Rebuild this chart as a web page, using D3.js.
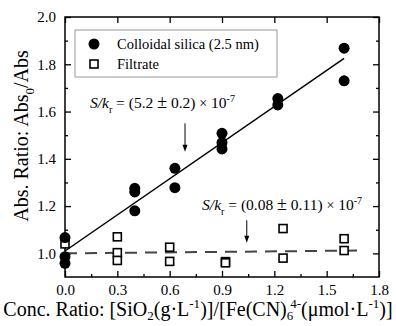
<!DOCTYPE html>
<html><head><meta charset="utf-8">
<script src="https://cdn.jsdelivr.net/npm/d3@7"></script>
<style>
html,body{margin:0;padding:0;background:#fff;}
svg{display:block;}
text, tspan{font-family:"Liberation Serif","Times New Roman",serif;}
</style></head>
<body>
<svg id="chart" width="396" height="326"></svg>
<script>
// ---- data ----
const silicaX = [0, 0, 0, 0.4, 0.4, 0.4, 0.63, 0.63, 0.9, 0.9, 0.9, 1.22, 1.22, 1.6, 1.6];
const silicaY = [1.067, 0.986, 0.958, 1.275, 1.26, 1.18, 1.36, 1.278, 1.508, 1.468, 1.442, 1.655, 1.628, 1.868, 1.73];
const filtrateX = [0, 0.3, 0.3, 0.3, 0.6, 0.6, 0.92, 0.92, 1.25, 1.25, 1.6, 1.6];
const filtrateY = [1.04, 1.07, 1.003, 0.97, 1.026, 0.966, 0.965, 0.96, 1.105, 0.98, 1.062, 1.012];
const fitSilicaX = [0, 1.6];
const fitSilicaY = [1.01, 1.825];
const fitFiltrateX = [0, 1.69];
const fitFiltrateY = [1.0, 1.012];
const xTicks = [0, 0.3, 0.6, 0.9, 1.2, 1.5, 1.8];
const xMinor = [0.15, 0.45, 0.75, 1.05, 1.35, 1.65];
const yTicks = [1.0, 1.2, 1.4, 1.6, 1.8, 2.0];
const yMinor = [1.1, 1.3, 1.5, 1.7, 1.9];
const legendLabels = ["Colloidal silica (2.5 nm)", "Filtrate"];
const annot1 = {x: 0.143, y: 1.615, ax: 0.688, ay1: 1.55, ay2: 1.43, a: "5.2", b: "0.2"};
const annot2 = {x: 0.786, y: 1.184, ax: 1.042, ay1: 1.14, ay2: 1.045, a: "0.08", b: "0.11"};

// ---- layout ----
const SERIF = "Liberation Serif, Times New Roman, serif";
const svg = d3.select("#chart").attr("font-family", SERIF);
const L = 65, R = 379, T = 17, B = 277;
const x = d3.scaleLinear().domain([0, 1.8]).range([L, R]);
const y = d3.scaleLinear().domain([0.9, 2.0]).range([B, T]);
const fs = 15;

function axisStyle(g){
  g.attr("font-family", SERIF);
  g.select(".domain").remove();
  g.selectAll(".tick line").attr("stroke","#000").attr("stroke-width",1.3);
  g.selectAll(".tick text").attr("font-family",SERIF).attr("font-size",fs).attr("fill","#000");
}
const fmt = d3.format(".1f");
svg.append("g").attr("transform",`translate(0,${B})`)
  .call(d3.axisBottom(x).tickValues(xTicks).tickSize(-6).tickPadding(7).tickFormat(fmt)).call(axisStyle);
svg.append("g").attr("transform",`translate(0,${B})`)
  .call(d3.axisBottom(x).tickValues(xMinor).tickSize(-3).tickFormat("")).call(axisStyle);
svg.append("g").attr("transform",`translate(0,${T})`)
  .call(d3.axisTop(x).tickValues(xTicks).tickSize(-6).tickFormat("")).call(axisStyle);
svg.append("g").attr("transform",`translate(${L},0)`)
  .call(d3.axisLeft(y).tickValues(yTicks).tickSize(-6).tickPadding(9).tickFormat(fmt)).call(axisStyle);
svg.append("g").attr("transform",`translate(${L},0)`)
  .call(d3.axisLeft(y).tickValues(yMinor).tickSize(-3).tickFormat("")).call(axisStyle);
svg.append("g").attr("transform",`translate(${R},0)`)
  .call(d3.axisRight(y).tickValues(yTicks).tickSize(-6).tickFormat("")).call(axisStyle);
svg.append("g").attr("transform",`translate(${R},0)`)
  .call(d3.axisRight(y).tickValues(yMinor).tickSize(-3).tickFormat("")).call(axisStyle);
svg.append("rect").attr("x",L).attr("y",T).attr("width",R-L).attr("height",B-T)
  .attr("fill","none").attr("stroke","#000").attr("stroke-width",1.5);

// fit lines
const line = d3.line().x(d=>x(d[0])).y(d=>y(d[1]));
svg.append("path").datum(d3.zip(fitSilicaX, fitSilicaY)).attr("d",line)
  .attr("fill","none").attr("stroke","#000").attr("stroke-width",1.5);
svg.append("path").datum(d3.zip(fitFiltrateX, fitFiltrateY)).attr("d",line)
  .attr("fill","none").attr("stroke","#444").attr("stroke-width",2).attr("stroke-dasharray","12,8");

// points
svg.append("g").selectAll("rect").data(d3.zip(filtrateX, filtrateY)).join("rect")
  .attr("x",d=>x(d[0])-4).attr("y",d=>y(d[1])-4).attr("width",8).attr("height",8)
  .attr("fill","#fff").attr("stroke","#000").attr("stroke-width",1.6);
svg.append("g").selectAll("circle").data(d3.zip(silicaX, silicaY)).join("circle")
  .attr("cx",d=>x(d[0])).attr("cy",d=>y(d[1])).attr("r",5.5).attr("fill","#000");

// legend
const lg = svg.append("g");
lg.append("rect").attr("x",75).attr("y",30).attr("width",202).attr("height",47)
  .attr("fill","#fff").attr("stroke","#999").attr("stroke-width",1);
lg.append("circle").attr("cx",94).attr("cy",44).attr("r",5.5).attr("fill","#000");
lg.append("rect").attr("x",90).attr("y",60).attr("width",8).attr("height",8)
  .attr("fill","#fff").attr("stroke","#000").attr("stroke-width",1.6);
lg.selectAll("text").data(legendLabels).join("text")
  .attr("x",117).attr("y",(d,i)=>49+i*20).attr("font-size",14.5).attr("font-family",SERIF).text(d=>d);

function rich(sel, parts, size, subShift){
  let shift = 0;
  const sb = subShift == null ? 0.3 : subShift;
  parts.forEach(p=>{
    const ts = sel.append("tspan").text(p.t).attr("font-family", p.font || SERIF);
    let target = 0, fsz = size;
    if(p.s==="sub"){ target = size*sb; fsz = size*0.65; }
    if(p.s==="sup"){ target = -size*0.38; fsz = size*0.65; }
    if(p.fsz) fsz = p.fsz;
    ts.attr("font-size",fsz);
    if(target!==shift){ ts.attr("dy", target-shift); shift = target; }
    if(p.dx) ts.attr("dx",p.dx);
    if(p.it) ts.attr("font-style","italic");
  });
}

function annotate(a){
  const t = svg.append("text").attr("x",x(a.x)).attr("y",y(a.y)).attr("fill","#000");
  rich(t,[{t:"S/k",it:true},{t:"r",s:"sub"},{t:" = ("+a.a+" "},{t:"\u00B1",fsz:18},{t:" "+a.b+") "},
          {t:"\u00D7",font:"DejaVu Sans",fsz:14},{t:" 10"},{t:"-7",s:"sup"}], 15.5);
  svg.append("line").attr("x1",x(a.ax)).attr("x2",x(a.ax)).attr("y1",y(a.ay1)).attr("y2",y(a.ay2)-5)
    .attr("stroke","#000").attr("stroke-width",1);
  const ax = x(a.ax), ay = y(a.ay2);
  svg.append("path").attr("d",`M${ax-2.5},${ay-7}L${ax+2.5},${ay-7}L${ax},${ay}Z`).attr("fill","#000");
}
annotate(annot1);
annotate(annot2);

const xt = svg.append("text").attr("x",198).attr("y",316).attr("text-anchor","middle").attr("fill","#000");
rich(xt,[{t:"Conc. Ratio: [SiO"},{t:"2",s:"sub"},{t:"(g\u00B7L"},{t:"-1",s:"sup"},{t:")]/[Fe(CN)"},{t:"6",s:"sub"},{t:"4-",s:"sup",dx:-3},{t:"(\u03BCmol\u00B7L"},{t:"-1",s:"sup"},{t:")]"}], 20, 0.22);
const yt = svg.append("text").attr("transform",`translate(28,136) rotate(-90)`).attr("text-anchor","middle").attr("fill","#000");
rich(yt,[{t:"Abs. Ratio: Abs"},{t:"0",s:"sub"},{t:"/Abs"}], 20);
</script>
</body></html>
